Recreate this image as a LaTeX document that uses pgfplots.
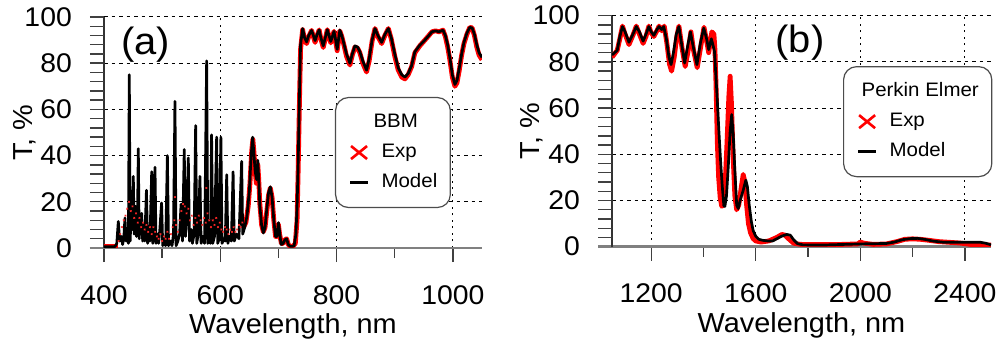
\documentclass[border=0pt]{standalone}
\usepackage{pgfplots}
\pgfplotsset{compat=1.18}
\usepackage{fontspec}
\setmainfont[FakeStretch=1.05]{Liberation Sans}
\begin{document}
\begin{tikzpicture}
\path[use as bounding box] (0pt,0pt) rectangle (997pt,345pt);
\pgfplotsset{
 panel/.style={
  scale only axis, height=231pt,
  anchor=south west,
  ymin=0, ymax=100,
  axis x line*=bottom, axis y line*=left,
  ytick={0,20,...,100},
  extra y ticks={4,8,12,16,24,28,32,36,44,48,52,56,64,68,72,76,84,88,92,96},
  extra y tick labels={},
  extra tick style={grid=none},
  minor x tick num=1,
  tick align=outside,
  major tick length=14pt, minor tick length=10pt,
  grid=major,
  x grid style={black, line width=1pt, dash pattern=on 2pt off 4.5pt},
  y grid style={black, line width=1pt, dash pattern=on 3.5pt off 4pt},
  x axis line style={-, gray, line width=2.5pt, shorten <=-14pt},
  y axis line style={-, black!80, line width=1.6pt},
  tick style={black!75, line width=1.4pt},
  tick label style={font=\fontsize{27}{30}\selectfont},
  /pgf/number format/assume math mode=true,
  /pgf/number format/1000 sep={},
  xticklabel style={anchor=base, inner sep=0pt, yshift=-42pt},
  yticklabel style={anchor=east, inner sep=0pt, xshift=-18pt},
  every axis x label/.style={at={(axis description cs:0.5,-0.372)}, anchor=base, font=\fontsize{27.5}{30}\selectfont},
  xlabel={Wavelength, nm}, ylabel={T, \%},
  legend cell align=left,
  legend style={anchor=north west, draw=black!70, line width=1.2pt, rounded corners=13pt,
    font=\fontsize{19.5}{24}\selectfont, inner xsep=13pt, inner ysep=16pt,
    row sep=12pt, column sep=12pt,
    nodes={inner sep=0pt, text height=14pt, text depth=4pt}},
 },
 expimg/.style={legend image code/.code={\draw[red, line width=2.6pt] (1pt,-6.5pt) -- (17pt,6.5pt) (1pt,6.5pt) -- (17pt,-6.5pt);}},
 modimg/.style={legend image code/.code={\draw[black, line width=3pt] (0pt,0pt) -- (18pt,0pt);}},
 expline/.style={red, line width=4.8pt, line join=round, mark=none},
 modline/.style={black, line width=2.7pt, line join=round, mark=none},
}
% ---------------- panel (a)
\begin{axis}[panel, at={(104pt,97pt)}, width=378pt,
  xmin=400, xmax=1050, xtick={400,600,800,1000},
  every axis y label/.style={at={(axis description cs:-0.209,0.5)}, rotate=90, anchor=center, font=\fontsize{27.5}{30}\selectfont},
  legend style={at={(axis description cs:0.611,0.654)}}]
\addlegendimage{empty legend}
\addlegendentry{\hspace*{-8pt}BBM}
\addplot[expline, expimg] coordinates {(400,0.7)(424,0.7)};
\addlegendentry{Exp}
\addplot[forget plot, red!85, only marks, mark=x, mark size=1.1pt, line width=0.7pt] coordinates {
(425,3)(428,6)(431,9)(434,12)(437,14)(440,17)(443,20)(446,16)(449,18)(452,13)(455,15)(458,11)(461,13)(464,9)(467,11)(470,8)(473,10)(476,7)(479,9)(482,6)(485,9)(488,7)(491,5)(494,4)(497,6)(500,3)(503,5)(506,4)(509,7)(512,4)(515,6)(518,9)(521,12)(522,22)(524,10)(527,7)(530,12)(533,16)(536,19)(539,18)(542,15)(545,17)(548,12)(551,14)(554,10)(557,13)(560,11)(563,14)(566,12)(569,10)(572,13)(575,11)(576,26)(578,15)(581,12)(584,9)(587,12)(590,10)(593,13)(596,9)(599,11)(602,8)(605,7)(608,9)(611,8)(614,6)(617,8)(620,7)(623,9)(626,7)(629,8)(632,10)(635,9)(638,11)};
\addplot[forget plot, expline] coordinates {
(640,9)(644,11)(648,18)(651,28)(654,42)(656,47)(658,41)(660,33)(662,28)(664.5,36)(666,30)(668,19)(671,10)(674,7)(677,9)(680,16)(683,23)(686,26)(689,22)(692,12)(695,5)(697.5,5)(700,10)(702,6)(705,2)(708,2)(711,3.5)(714,4)(717,1.5)(720,0.7)(725,0.7)(729,2)(732,12)(734,35)(736,62)(738,86)(741.6,94.5)
(745,90)(748.4,88.5)(752,91.5)(757,94.2)(760,91.5)(763,89)(766.5,92)(770,94.4)(773,90.5)(777,86.8)(780.5,90.5)(784,94.5)(787,91.5)(790,88.8)(795.5,93.8)(798,90)(801,85.4)(805.5,94)(809,91.5)(813,87.5)(817,83)(822.9,79.2)(827,83.5)(831.5,87)(836,86.5)(840,84.5)(845,80)(851.5,76.2)(856,81)(861,89.5)(866,95)(871,91.5)(877.5,88.5)(883,92)(889,95)(894,90.5)(900,83)(906,77)(912,74)(917.5,73.2)(923,75)(929,78.5)(934.6,84.5)(943,87.5)(950,89.5)(957,91.5)(964,93.6)(970,94)(976,93.6)(983,94.3)(987,91.5)(991,87)(995,81)(999,74)(1003.4,70)(1007,71.5)(1011,77)(1015,83.5)(1019,88.5)(1024,92.5)(1029,95.5)(1033,95.3)(1037,92)(1041,87)(1045,83.5)(1050,81.5)};
\addplot[modline, modimg] coordinates {
(400,0.5)(418,0.5)(420,1)(422,2)(424.6,11.5)(427,3)(430,5)(432,1.5)(434,4)(436,13)(438,3)(440,6)(442,2)(443.5,75)(445,3)(447,18)(448.5,8)(450.4,31)(452,6)(454.4,18)(456,5)(457.5,10)(459,43)(460.5,4)(462.5,12)(464.8,15)(466.5,3)(468.5,10)(470,3)(473,25)(475,2)(477,9)(479,3)(482,33)(484,2)(485.7,12)(487.7,35)(489.5,2)(492,6)(494,2)(496,8)(499,19.5)(501,1)(504,4)(506,1)(509,40)(511,1)(514,3)(517,1)(519.5,6)(522,63.5)(524,1)(527,3)(530,6)(532.5,19)(535,3)(538,42.6)(540,5)(542.5,14)(545,39)(547,3)(550,8)(552,2)(555,6)(557.6,53)(559.5,2)(562,6)(565,31)(567,2)(570,5)(573,2)(576.5,81)(578.5,2)(581,4)(583,2)(585,49)(587,2)(590,5)(593.7,48)(595.5,2)(598,4)(601,48)(603,2)(606,4)(608.5,3)(611,31.7)(613,2)(616,5)(619,3)(622,33)(624,3)(628,6)(632,4)(636.7,37.5)(638.5,6)(642,9)(646,14)(650,25)(653,40)(655.6,48)(658,40)(660,33)(662.5,29.6)(664.5,38)(666,30)(668,18)(671,10)(674,6.5)(677,9)(680,17)(683,24)(686,26.5)(689,22)(692,12)(695,5)(697.5,5)(700,11)(702,7)(704.5,1.5)(708,2)(711,3.5)(714,4)(717,1.5)(720,0.7)(724,0.7)(727,1)(730,6)(732,18)(734,38)(736,65)(738,88)
(741.6,95)(745,91)(748.4,89.2)(752,92)(757,94.2)(760,92)(763,89.8)(766.5,92.5)(770,94.4)(773,91)(777,87.5)(780.5,91)(784,94.5)(787,92)(790,89.4)(795.5,93.8)(798,90.5)(801,86)(805.5,94.3)(809,92)(813,88)(817,84)(822.9,80)(827,84)(831.5,87.5)(836,87)(840,85)(845,81)(851.5,77)(856,82)(861,90)(866,95)(871,92)(877.5,89)(883,92.5)(889,95)(894,91)(900,84)(906,78)(912,75)(917.5,74)(923,75.5)(929,79)(934.6,85)(943,87.8)(950,89.5)(957,91.5)(964,93.6)(970,94)(976,93.6)(983,94.3)(987,92)(991,88)(995,82)(999,75)(1003.4,70.8)(1007,72.5)(1011,78)(1015,84)(1019,89)(1024,93)(1029,95.5)(1033,95.3)(1037,92.5)(1041,88)(1045,84.5)(1050,82.5)};
\addlegendentry{Model}
\node[font=\fontsize{38}{42}\selectfont] at (axis description cs:0.110,0.879) {(a)};
\end{axis}
% ---------------- panel (b)
\begin{axis}[panel, at={(612pt,98.3pt)}, width=379pt,
  xmin=1050, xmax=2500, xtick={1200,1600,2000,2400},
  every axis y label/.style={at={(axis description cs:-0.211,0.5)}, rotate=90, anchor=center, font=\fontsize{27.5}{30}\selectfont},
  legend style={at={(axis description cs:0.6095,0.782)}}]
\addlegendimage{empty legend}
\addlegendentry{\hspace*{-28pt}Perkin Elmer}
\addplot[expline, expimg] coordinates {
(1050,82)(1060,83.5)(1070,85)(1080,90)(1090,95.5)(1100,92)(1115,87.5)(1130,91.5)(1143,95.5)(1155,92)(1169,88)(1180,91)(1191,95.5)(1200,92.5)(1210,91)(1222,93.5)(1230,95.5)(1240,93.5)(1250,95.5)(1260,88)(1270,79)(1278,76)(1288,82)(1298,91)(1306,95.5)(1318,86)(1330,78)(1340,84)(1352,93)(1362,85)(1376,77.5)(1390,87)(1402,95)(1412,89)(1420,84)(1432,93)(1440,92)(1444,85)(1448,70)(1453,45)(1458,30)(1464,21)(1470,17.5)(1476,18)(1482,25)(1490,45)(1497,65)(1502,73.8)(1507,62)(1513,40)(1520,22)(1527,16)(1535,18)(1545,26)(1552,31.3)(1558,28)(1565,18)(1572,10)(1580,6)(1590,3.5)(1600,2.5)(1620,2)(1650,2.5)(1680,4)(1700,5.3)(1712,5)(1725,3.5)(1745,1.5)(1770,1)(1900,0.9)(1990,1.2)(2000,2)(2015,1.5)(2050,1)(2100,1.2)(2140,2.2)(2170,3.2)(2200,3.4)(2230,3.2)(2260,2.8)(2300,2.2)(2380,1.6)(2420,1)(2500,0.7)};
\addlegendentry{Exp}
\addplot[modline, modimg] coordinates {
(1050,83)(1060,84)(1070,85)(1080,91)(1090,95.3)(1100,93)(1115,88.5)(1130,92)(1143,95.3)(1155,93)(1169,89)(1180,92)(1191,95.3)(1200,93)(1210,91.5)(1222,94)(1230,95.3)(1240,94)(1248,95.3)(1258,90)(1268,82)(1276,78.8)(1285,84)(1296,92)(1306,95.3)(1316,88)(1328,79.5)(1338,86)(1350,93)(1360,87)(1375,78.8)(1388,88)(1401,94.6)(1412,90)(1420,85.3)(1430,90)(1437,87)(1442,84.6)(1447,75)(1452,65)(1459,50)(1466,36)(1472,26)(1478,17.6)(1482,17.5)(1488,22)(1495,35)(1502,50)(1508,57.2)(1514,48)(1520,33)(1527,18)(1533,16.5)(1540,20)(1551,24)(1562,28.8)(1568,26)(1575,18)(1583,11)(1590,7)(1600,4.5)(1612,3.2)(1625,2.8)(1645,2.5)(1665,2.5)(1680,3.4)(1700,4.6)(1719,5.3)(1732,5)(1745,3)(1760,1.3)(1780,0.8)(1850,0.7)(2000,1.2)(2100,1.4)(2130,2)(2160,3)(2190,3.5)(2220,3.6)(2250,3.1)(2280,2.4)(2320,1.9)(2460,1.9)(2480,1.5)(2500,0.8)};
\addlegendentry{Model}
\node[font=\fontsize{38}{42}\selectfont] at (axis description cs:0.496,0.882) {(b)};
\end{axis}
\end{tikzpicture}
\end{document}
